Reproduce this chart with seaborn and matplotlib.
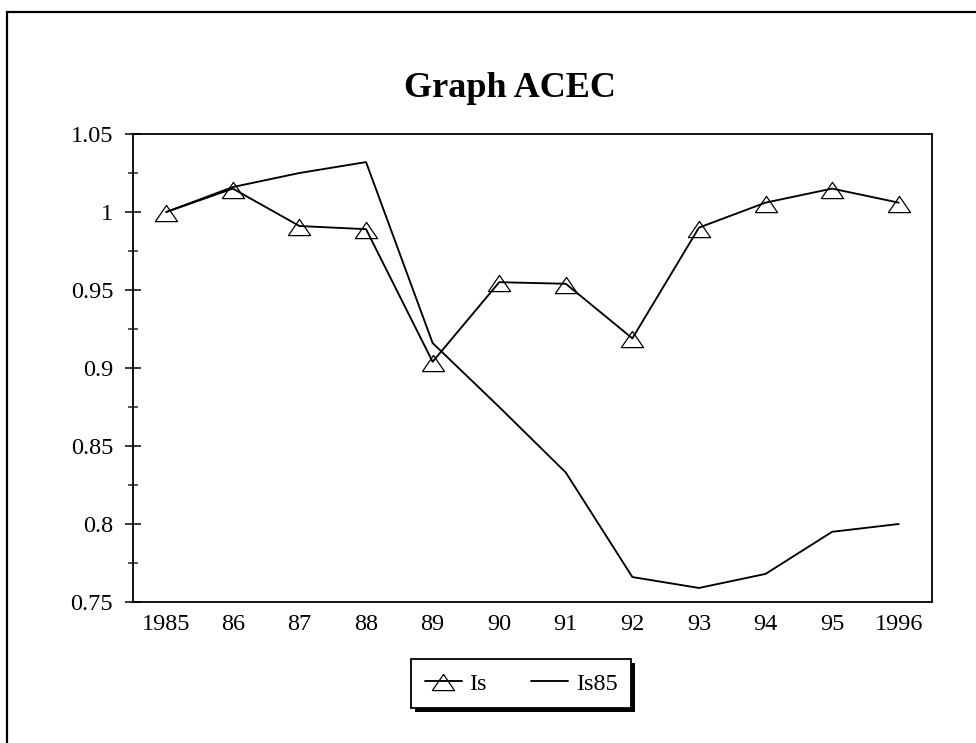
import matplotlib
matplotlib.use("Agg")
import matplotlib.pyplot as plt
import seaborn as sns
import pandas as pd
import numpy as np
from matplotlib.path import Path
from matplotlib.patches import Rectangle
import matplotlib.patheffects as pe

years = ["1985", "86", "87", "88", "89", "90", "91", "92", "93", "94", "95", "1996"]
is_vals = [1.000, 1.015, 0.991, 0.989, 0.904, 0.955, 0.954, 0.919, 0.990, 1.006, 1.015, 1.006]
is85_vals = [1.000, 1.016, 1.025, 1.032, 0.916, 0.875, 0.833, 0.766, 0.759, 0.768, 0.795, 0.800]
y_ticks = [0.75, 0.80, 0.85, 0.90, 0.95, 1.00, 1.05]
y_ticklabels = ["0.75", "0.8", "0.85", "0.9", "0.95", "1", "1.05"]
y_minor = [0.775, 0.825, 0.875, 0.925, 0.975, 1.025]

sns.set_style("ticks")
plt.rcParams['font.family'] = ['Liberation Serif', 'DejaVu Serif']
plt.rcParams['text.color'] = 'black'

fig = plt.figure(figsize=(9.76, 7.43), dpi=100)
ax = fig.add_axes([133/976, 1-602/743, (932-133)/976, (602-134)/743])

df = pd.DataFrame({"x": np.arange(len(years)), "Is": is_vals, "Is85": is85_vals})

tri = Path([(-1, -0.82), (1, -0.82), (0, 0.64), (-1, -0.82)],
           [Path.MOVETO, Path.LINETO, Path.LINETO, Path.CLOSEPOLY])

sns.lineplot(data=df, x="x", y="Is", ax=ax, color="black", linewidth=1.35,
             marker=tri, markersize=16, markerfacecolor="none",
             markeredgecolor="black", markeredgewidth=0.9, label="Is")
sns.lineplot(data=df, x="x", y="Is85", ax=ax, color="black", linewidth=1.35,
             label="Is85")

ax.set_xlim(-0.5, len(years) - 0.5)
ax.set_ylim(0.75, 1.05)
ax.set_xticks(np.arange(len(years)))
ax.set_xticklabels(years)
ax.set_yticks(y_ticks)
ax.set_yticklabels(y_ticklabels)
ax.set_yticks(y_minor, minor=True)
ax.tick_params(axis="x", length=0, labelsize=17.5, pad=9, colors="black")
ax.tick_params(axis="y", which="major", direction="inout", length=11.5, width=1.1,
               labelsize=17.5, pad=8.5, colors="black")
ax.tick_params(axis="y", which="minor", direction="inout", length=6.5, width=1.1)
ax.set_xlabel("")
ax.set_ylabel("")
for s in ax.spines.values():
    s.set_visible(True)
    s.set_linewidth(1.3)
    s.set_color("black")

fig.text(510/976, 1-97/743, "Graph ACEC", ha="center", va="baseline",
         fontsize=26, fontweight="bold", color="black")

leg = ax.legend(loc="center", bbox_to_anchor=(521/976, 1-683.5/743),
                bbox_transform=fig.transFigure, ncol=2, fontsize=17.5,
                frameon=True, fancybox=False, shadow=False, handlelength=1.55,
                columnspacing=1.8, handletextpad=0.3, borderpad=0.55,
                borderaxespad=0)
frame = leg.get_frame()
frame.set_edgecolor("black")
frame.set_facecolor("white")
frame.set_alpha(1.0)
frame.set_linewidth(1.3)
frame.set_path_effects([pe.SimplePatchShadow(offset=(3, -3), shadow_rgbFace="black", alpha=1.0), pe.Normal()])
for t in leg.get_texts():
    t.set_color("black")

fig.patches.append(Rectangle((7/976, -0.1), 1.2, 1-12/743 + 0.1,
                             transform=fig.transFigure, fill=False,
                             edgecolor="black", linewidth=1.6, zorder=0))

fig.savefig("out.png", dpi=100)
